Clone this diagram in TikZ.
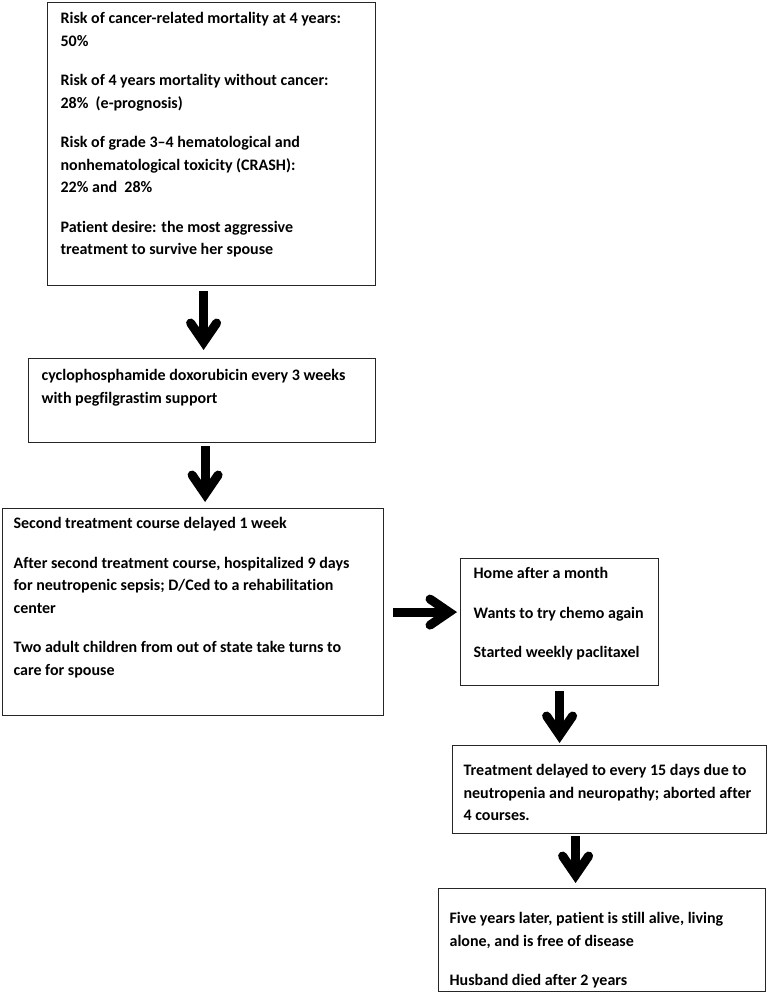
\documentclass[tikz,border=0pt]{standalone}
\usepackage{fontspec}
\setmainfont[Ligatures={TeX,NoCommon}]{Carlito}
\usepackage{tikz}
\usetikzlibrary{arrows.meta}
\newcommand{\boxbody}[4]{\parbox[t][#2pt][t]{#1pt}{\vspace*{#3pt}\raggedright #4}}

\begin{document}
\begin{tikzpicture}[x=1pt,y=-1pt,
  box/.style={draw=black!85,line width=1.2pt,anchor=north west,inner ysep=0pt,
              inner xsep=13pt,align=left,font=\fontsize{16}{22.5}\selectfont\bfseries},
  bigarrow/.style={line width=9pt,
                   -{Straight Barb[length=19pt,width=26pt,line cap=round,line join=miter]}}]
  \useasboundingbox (0,0) rectangle (768,993);
  \node[box] (risk) at (47,2) {\boxbody{302}{283}{10}{%
    Risk of cancer-related mortality at 4 years:\\ 50\%\\[17pt]
    Risk of 4 years mortality without cancer:\\ 28\%~ (e-prognosis)\\[17pt]
    Risk of grade 3–4 hematological and\\ nonhematological toxicity (CRASH):\\ 22\% and~ 28\%\\[17pt]
    Patient desire: the most aggressive\\ treatment to survive her spouse}};
  \node[box] (chemo) at (28,358) {\boxbody{321}{84}{11}{%
    cyclophosphamide doxorubicin every 3 weeks\\ with pegfilgrastim support}};
  \node[box,inner xsep=11pt] (sepsis) at (2,508) {\boxbody{359}{207}{9}{%
    Second treatment course delayed 1 week\\[17pt]
    After second treatment course, hospitalized 9 days\\ for neutropenic sepsis; D/Ced to a rehabilitation\\ center\\[17pt]
    Two adult children from out of state take turns to\\ care for spouse}};
  \node[box] (home) at (460,558) {\boxbody{172}{127}{9}{%
    Home after a month\\[17pt]
    Wants to try chemo again\\[17pt]
    Started weekly paclitaxel}};
  \node[box,inner xsep=11pt] (delay) at (452,745) {\boxbody{292}{88}{19}{%
    Treatment delayed to every 15 days due to\\ neutropenia and neuropathy; aborted after\\ 4 courses.}};
  \node[box,inner xsep=11pt] (alive) at (438,888) {\boxbody{305}{103}{24}{%
    Five years later, patient is still alive, living\\ alone, and is free of disease\\[17pt]
    Husband died after 2 years}};

  \draw[bigarrow,shorten <=5pt,shorten >=8pt] ([xshift=-8pt]risk.south) -- ([xshift=-8pt]risk.south |- chemo.north);
  \draw[bigarrow,shorten <=3pt,shorten >=6pt] ([xshift=3pt]chemo.south) -- ([xshift=3pt]chemo.south |- sepsis.north);
  \draw[bigarrow,shorten <=9pt,shorten >=3pt] (sepsis.east) -- (sepsis.east -| home.west);
  \draw[bigarrow,shorten <=5pt,shorten >=2pt] (home.south) -- (home.south |- delay.north);
  \draw[bigarrow,shorten <=2pt,shorten >=5pt] ([xshift=-34pt]delay.south) -- ([xshift=-34pt]delay.south |- alive.north);
\end{tikzpicture}
\end{document}
